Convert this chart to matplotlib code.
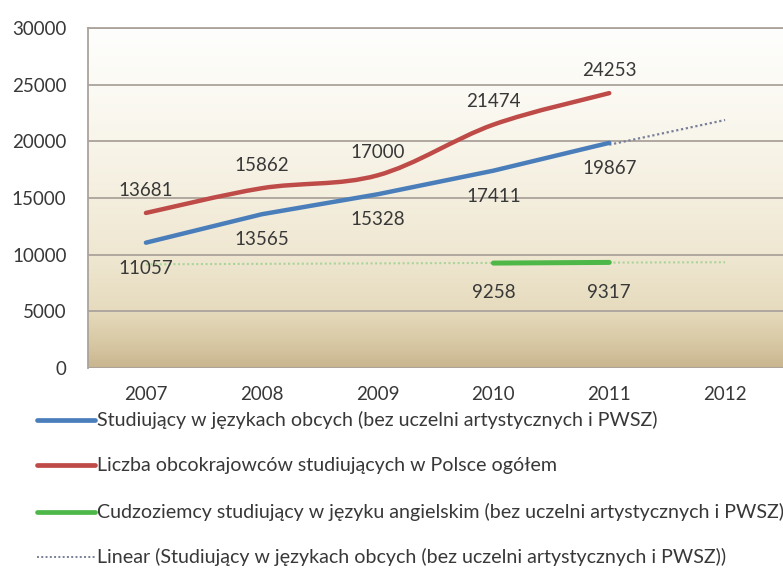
import numpy as np
import matplotlib
matplotlib.use('Agg')
import matplotlib.pyplot as plt
from matplotlib.path import Path
from matplotlib.patches import PathPatch
from matplotlib.colors import LinearSegmentedColormap
from matplotlib.lines import Line2D

years = ['2007', '2008', '2009', '2010', '2011', '2012']
blue_vals = [11057, 13565, 15328, 17411, 19867]          # 2007-2011
red_vals = [13681, 15862, 17000, 21474, 24253]           # 2007-2011
green_vals = [9258, 9317]                                # 2010-2011
blue_trend = [19700, 21880]                              # 2011-2012, visible part of dotted line
green_trend = [9150, 9190, 9230, 9270, 9300, 9330]       # 2007-2012

labels = ['Studiujący w językach obcych (bez uczelni artystycznych i PWSZ)',
          'Liczba obcokrajowców studiujących w Polsce ogółem',
          'Cudzoziemcy studiujący w języku angielskim (bez uczelni artystycznych i PWSZ)',
          'Linear (Studiujący w językach obcych (bez uczelni artystycznych i PWSZ))']

BLUE = '#4A7EBB'
RED = '#BE4B48'
GREEN = '#4DB848'
TXT = '#383838'
FONT = 'Lato'

plt.rcParams['font.family'] = [FONT, 'DejaVu Sans']


def smooth_path(xs, ys):
    # excel-style smoothed line: cubic bezier through the points
    pts = np.column_stack([xs, ys]).astype(float)
    n = len(pts)
    verts = [pts[0]]
    codes = [Path.MOVETO]
    for i in range(n - 1):
        p0 = pts[i - 1] if i > 0 else pts[i]
        p1 = pts[i]
        p2 = pts[i + 1]
        p3 = pts[i + 2] if i + 2 < n else pts[i + 1]
        c1 = p1 + (p2 - p0) / 6.0
        c2 = p2 - (p3 - p1) / 6.0
        verts += [c1, c2, p2]
        codes += [Path.CURVE4] * 3
    return Path(verts, codes)


fig = plt.figure(figsize=(7.83, 5.72), dpi=100)
ax = fig.add_axes([88 / 783, 1 - 368 / 572, 695 / 783, 340 / 572])

# gradient background
cmap = LinearSegmentedColormap.from_list('bg', [
    (0.0, '#C9B690'), (0.08, '#D9CAA6'), (0.17, '#E6DBBE'), (0.33, '#EFE7D1'),
    (0.5, '#F4EEDE'), (0.67, '#F8F5EA'), (0.83, '#FBFAF4'), (1.0, '#FEFEFD')])
grad = np.linspace(0, 1, 256).reshape(-1, 1)
ax.imshow(grad, cmap=cmap, aspect='auto', origin='lower',
          extent=[0, 1, 0, 1], transform=ax.transAxes, zorder=0)

ax.set_xlim(-0.5, 5.5)
ax.set_ylim(0, 30000)
ax.set_yticks(range(0, 30001, 5000))
ax.set_xticks(range(len(years)))
ax.set_xticklabels(years)
ax.yaxis.grid(True, color='#ABA39B', linewidth=1.3, zorder=1)
ax.set_axisbelow(True)
ax.tick_params(length=0, labelsize=13.5, labelcolor=TXT)
ax.tick_params(axis='x', pad=13)
ax.tick_params(axis='y', pad=15.5)
for s in ['right', 'bottom']:
    ax.spines[s].set_visible(False)
for s in ['left', 'top']:
    ax.spines[s].set_color('#ABA39B')
    ax.spines[s].set_linewidth(1.3)

# trend lines
ax.plot(range(6), green_trend, linestyle=(0, (1, 1.2)), color='#A9D49A', lw=1.5, zorder=2)
ax.plot([4, 5], blue_trend, linestyle=(0, (1, 1.2)), color='#7A7F99', lw=1.6, zorder=2)

# series
ax.plot(range(5), blue_vals, color=BLUE, lw=3.2, solid_capstyle='round',
        solid_joinstyle='round', zorder=3)
ax.add_patch(PathPatch(smooth_path(range(5), red_vals), fill=False, edgecolor=RED,
                       lw=3.2, capstyle='round', zorder=4))
ax.plot([3, 4], green_vals, color=GREEN, lw=3.6, solid_capstyle='round', zorder=3)

# data labels
for i, v in enumerate(blue_vals):
    ax.annotate(str(v), (i, v), xytext=(0, -18.5), textcoords='offset points',
                ha='center', va='center', fontsize=13.5, color=TXT, zorder=5)
for i, v in enumerate(red_vals):
    ax.annotate(str(v), (i, v), xytext=(0, 16.5), textcoords='offset points',
                ha='center', va='center', fontsize=13.5, color=TXT, zorder=5)
for i, v in enumerate(green_vals):
    ax.annotate(str(v), (i + 3, v), xytext=(0, -21.5), textcoords='offset points',
                ha='center', va='center', fontsize=13.5, color=TXT, zorder=5)

# legend below the plot
rows_y = [420, 465, 512, 557]
styles = [dict(color=BLUE, lw=3.4), dict(color=RED, lw=3.4),
          dict(color=GREEN, lw=3.4),
          dict(color='#7A7F99', lw=1.4, linestyle=(0, (1, 1.2)))]
for y, lab, st in zip(rows_y, labels, styles):
    fy = 1 - y / 572
    fig.add_artist(Line2D([37 / 783, 95 / 783], [fy, fy], transform=fig.transFigure,
                          solid_capstyle='round', **st))
    fig.text(97 / 783, fy, lab, ha='left', va='center', fontsize=14.1, color=TXT)

fig.savefig('out.png', dpi=100, facecolor='white')
